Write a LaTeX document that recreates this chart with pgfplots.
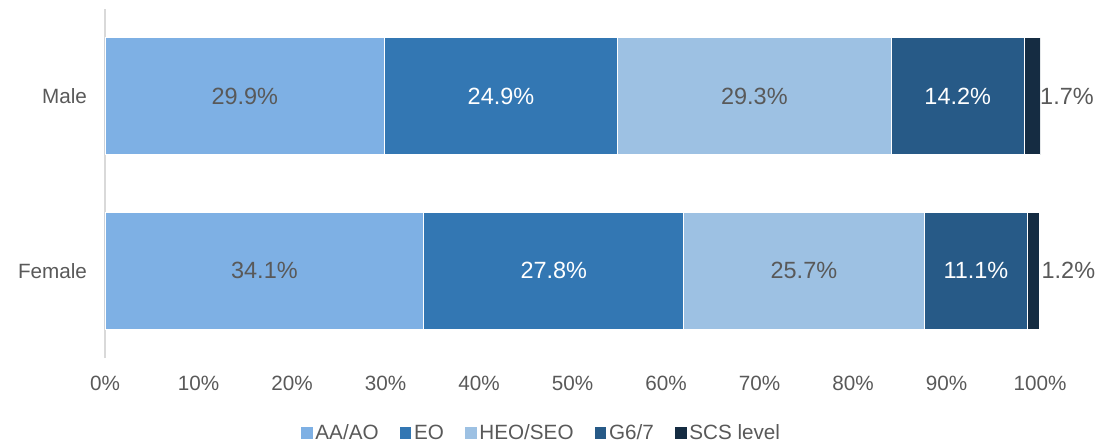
\documentclass[border=0pt]{standalone}
\usepackage{pgfplots}
\pgfplotsset{compat=1.18}
\usepackage{fontspec}
\setmainfont{Liberation Sans}
\definecolor{c1}{HTML}{7EB0E4}
\definecolor{c2}{HTML}{3377B3}
\definecolor{c3}{HTML}{9DC1E3}
\definecolor{c4}{HTML}{275A87}
\definecolor{c5}{HTML}{152C42}
\definecolor{txt}{HTML}{595959}
\definecolor{axl}{HTML}{D9D9D9}
\newcommand{\lblfont}{\fontsize{15.5}{18}\selectfont}
\newcommand{\datafont}{\fontsize{17.6}{20}\selectfont}
\begin{document}
\begin{tikzpicture}[x=1pt,y=1pt]
\useasboundingbox (-78.75,-66.75) rectangle (757.5,268.5);
\begin{axis}[
  at={(0,0)}, anchor=south west,
  scale only axis, width=701.25pt, height=261.75pt,
  xbar stacked, bar width=87.75pt,
  xmin=0, xmax=100, ymin=-0.5, ymax=1.5,
  ytick={0,1}, yticklabels={Female,Male},
  xtick={0,10,...,100},
  xticklabel={\pgfmathprintnumber{\tick}\%},
  /pgf/number format/assume math mode=true,
  axis x line=bottom, axis y line=left,
  x axis line style={draw=none},
  y axis line style={draw=axl, line width=1.1pt, -},
  major tick length=0pt,
  tick label style={font=\lblfont, text=txt},
  xticklabel style={yshift=-10pt},
  yticklabel style={xshift=-10pt},
  point meta=explicit,
  nodes near coords={\pgfmathprintnumber[fixed,precision=1,fixed zerofill]{\pgfplotspointmeta}\%},
  every node near coord/.append style={font=\datafont},
  legend columns=5,
  legend style={draw=none, fill=none, at={(0.4674,0)}, anchor=center, yshift=-56.25pt,
    font=\lblfont, text=txt, /tikz/every even column/.append style={column sep=14pt}},
  legend image code/.code={\fill[#1, draw=none] (0pt,-4.3pt) rectangle (8.6pt,4.3pt);},
]
\addplot[fill=c1, draw=white, line width=0.6pt, every node near coord/.append style={text=txt}]
  coordinates {(34.1,0) [34.1] (29.9,1) [29.9]};
\addplot[fill=c2, draw=white, line width=0.6pt, every node near coord/.append style={text=white}]
  coordinates {(27.8,0) [27.8] (24.9,1) [24.9]};
\addplot[fill=c3, draw=white, line width=0.6pt, every node near coord/.append style={text=txt}]
  coordinates {(25.7,0) [25.7] (29.3,1) [29.3]};
\addplot[fill=c4, draw=white, line width=0.6pt, every node near coord/.append style={text=white}]
  coordinates {(11.1,0) [11.1] (14.2,1) [14.2]};
\addplot[fill=c5, draw=white, line width=0.6pt, every node near coord/.append style={text=txt, anchor=west, xshift=2.5pt}]
  coordinates {(1.2,0) [1.2] (1.7,1) [1.7]};
\legend{AA/AO, EO, HEO/SEO, G6/7, SCS level}
\end{axis}
\end{tikzpicture}
\end{document}
